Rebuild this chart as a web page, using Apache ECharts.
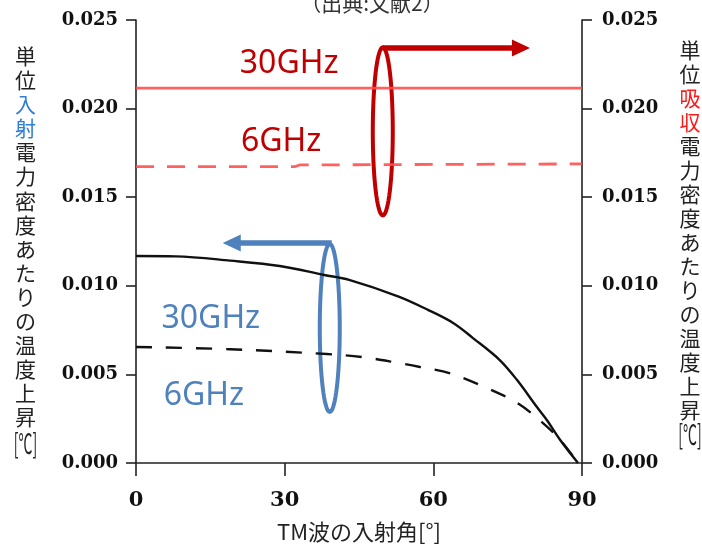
<!DOCTYPE html>
<html>
<head>
<meta charset="utf-8">
<script src="https://cdn.jsdelivr.net/npm/echarts@6/dist/echarts.min.js"></script>
<style>
  html, body { margin: 0; padding: 0; background: #fff; }
  #chart { width: 702px; height: 546px; }
</style>
</head>
<body>
<div id="chart"></div>
<script>
// Temperature rise per unit power density vs. TM-wave incidence angle

// incidence angle [deg] / temperature rise per unit incident power density (black curves)
const incAngles30 = [0, 8, 19, 29, 38, 43, 53, 59, 64, 68, 73.4, 76.9, 80.9, 82.9, 85.6, 89.2];
const incValues30 = [0.01168, 0.01166, 0.01142, 0.01112, 0.01061, 0.01033, 0.00939, 0.00863, 0.0079, 0.00705, 0.00581, 0.00468, 0.00316, 0.00243, 0.0013, 0.0];

const incAngles6 = [0, 19, 38.5, 45.8, 52.7, 57.3, 63.4, 70.8, 76.9, 81.9, 85.6, 89.2];
const incValues6 = [0.00655, 0.00642, 0.00615, 0.00597, 0.00566, 0.00542, 0.00506, 0.00423, 0.00339, 0.00231, 0.0013, 0.0];

// temperature rise per unit absorbed power density (red lines)
const absAngles30 = [0, 90];
const absValues30 = [0.02115, 0.02115];

const absAngles6 = [0, 32, 33, 90];
const absValues6 = [0.01672, 0.01672, 0.01682, 0.01688];

const xTicks = [0, 30, 60, 90];
const yTicks = [0, 0.005, 0.01, 0.015, 0.02, 0.025];

const leftName = [['単', '#222'], ['位', '#222'], ['入', '#2f7fd6'], ['射', '#2f7fd6'], ['電', '#222'], ['力', '#222'], ['密', '#222'], ['度', '#222'], ['あ', '#222'], ['た', '#222'], ['り', '#222'], ['の', '#222'], ['温', '#222'], ['度', '#222'], ['上', '#222'], ['昇', '#222']];
const rightName = [['単', '#222'], ['位', '#222'], ['吸', '#ff1a1a'], ['収', '#ff1a1a'], ['電', '#222'], ['力', '#222'], ['密', '#222'], ['度', '#222'], ['あ', '#222'], ['た', '#222'], ['り', '#222'], ['の', '#222'], ['温', '#222'], ['度', '#222'], ['上', '#222'], ['昇', '#222']];

const zip = (xs, ys) => xs.map((x, i) => [x, ys[i]]);

const chart = echarts.init(document.getElementById('chart'), null, { renderer: 'canvas' });

const tickFont = { fontFamily: 'DejaVu Serif', fontWeight: 'bold', color: '#111' };
const axisLineStyle = { color: '#222', width: 1.6 };

function valueAxis(position, margin) {
  return {
    type: 'value',
    position: position,
    min: yTicks[0],
    max: yTicks[yTicks.length - 1],
    interval: 0.005,
    splitLine: { show: false },
    axisLine: { show: true, lineStyle: axisLineStyle },
    axisTick: { show: true, length: 10, lineStyle: axisLineStyle },
    axisLabel: Object.assign({ fontSize: 18, margin: margin, formatter: v => v.toFixed(3) }, tickFont)
  };
}

chart.setOption({
  animation: false,
  backgroundColor: '#fff',
  grid: { left: 136, right: 120, top: 20, bottom: 83, outerBoundsMode: 'none' },
  xAxis: {
    type: 'value',
    min: xTicks[0],
    max: xTicks[xTicks.length - 1],
    interval: 30,
    offset: 3,
    splitLine: { show: false },
    axisLine: { show: true, lineStyle: axisLineStyle },
    axisTick: { show: true, length: 13, lineStyle: axisLineStyle },
    axisLabel: Object.assign({ fontSize: 21, margin: 24 }, tickFont),
    name: 'TM波の入射角[°]',
    nameLocation: 'middle',
    nameGap: 55,
    nameTextStyle: { fontFamily: 'Noto Sans CJK JP', fontSize: 22, color: '#222' }
  },
  yAxis: [valueAxis('left', 18), valueAxis('right', 20)],
  series: [
    {
      name: '30GHz 吸収', type: 'line', yAxisIndex: 1, showSymbol: false, symbol: 'none',
      data: zip(absAngles30, absValues30),
      lineStyle: { color: '#ff4a4a', width: 2.8, opacity: 0.88 }
    },
    {
      name: '6GHz 吸収', type: 'line', yAxisIndex: 1, showSymbol: false, symbol: 'none',
      data: zip(absAngles6, absValues6),
      lineStyle: { color: '#ff4a4a', width: 2.8, opacity: 0.88, type: [18, 13] }
    },
    {
      name: '30GHz 入射', type: 'line', yAxisIndex: 0, showSymbol: false, symbol: 'none',
      smooth: 0.35,
      data: zip(incAngles30, incValues30),
      lineStyle: { color: '#111', width: 2.4 }
    },
    {
      name: '6GHz 入射', type: 'line', yAxisIndex: 0, showSymbol: false, symbol: 'none',
      smooth: 0.35,
      data: zip(incAngles6, incValues6),
      lineStyle: { color: '#111', width: 2.4, type: [16, 14] }
    }
  ]
});

// ---- annotations: source note, vertical axis titles, ellipses, arrows, frequency labels ----
const px = (a, v) => chart.convertToPixel({ xAxisIndex: 0, yAxisIndex: 0 }, [a, v]);

function ellipsePoints(cx, cy, rx, ry) {
  const pts = [];
  for (let i = 0; i < 72; i++) {
    const t = (i / 72) * Math.PI * 2;
    pts.push([cx + rx * Math.cos(t), cy + ry * Math.sin(t)]);
  }
  return pts;
}

function arrow(from, tipX, color) {
  const dir = Math.sign(tipX - from[0]);
  const headLen = 18, headHalf = 8.5;
  const baseX = tipX - dir * headLen;
  return [
    { type: 'line', shape: { x1: from[0], y1: from[1], x2: baseX + dir * 2, y2: from[1] },
      style: { stroke: color, lineWidth: 5.5 } },
    { type: 'polygon', shape: { points: [[baseX, from[1] - headHalf], [tipX, from[1]], [baseX, from[1] + headHalf]] },
      style: { fill: color } }
  ];
}

function verticalName(chars, cx, top, pitch, tailY) {
  const els = chars.map((c, i) => ({
    type: 'text', x: cx, y: top + i * pitch,
    style: { text: c[0], fill: c[1], font: '21px "Noto Sans CJK JP"', align: 'center', verticalAlign: 'middle' }
  }));
  els.push({
    type: 'text', x: cx, y: tailY, scaleX: 0.58, scaleY: 1.15,
    style: { text: '[℃]', fill: '#222', font: '24px "Noto Sans CJK JP"', align: 'center', verticalAlign: 'middle' }
  });
  return els;
}

const red = '#c00000', blue = '#4f81bd';
const redCenter = px(49.8, 0.01871);
const blueCenter = px(39.1, 0.00762);
const redArrowStart = px(49.8, 0.02342);
const redArrowTip = px(79.5, 0.02342);
const blueArrowStart = px(39.5, 0.01242);
const blueArrowTip = px(17.5, 0.01242);

const labelFont = '32px "Noto Sans"';
const labels = [
  ['30GHz', px(30.9, 0.02252), red],
  ['6GHz', px(29.3, 0.01812), red],
  ['30GHz', px(15.1, 0.00813), blue],
  ['6GHz', px(13.7, 0.00378), blue]
];

const graphics = [
  { type: 'text', x: 372, y: 3,
    style: { text: '（出典:文献2）', fill: '#333', font: '21px "Noto Sans CJK JP"', align: 'center', verticalAlign: 'middle' } },
  ...verticalName(leftName, 25.5, 56, 24.1, 444),
  ...verticalName(rightName, 690, 50, 24, 435),
  { type: 'polygon', shape: { points: ellipsePoints(redCenter[0], redCenter[1], 10, 84) },
    style: { fill: 'none', stroke: red, lineWidth: 4 } },
  { type: 'polygon', shape: { points: ellipsePoints(blueCenter[0], blueCenter[1], 10, 84) },
    style: { fill: 'none', stroke: blue, lineWidth: 4 } },
  ...arrow(redArrowStart, redArrowTip[0], red),
  ...arrow(blueArrowStart, blueArrowTip[0], blue),
  ...labels.map(l => ({
    type: 'text', x: l[1][0], y: l[1][1],
    style: { text: l[0], fill: l[2], font: labelFont, align: 'center', verticalAlign: 'middle' }
  }))
];

chart.setOption({ graphic: { elements: graphics } });
</script>
</body>
</html>
